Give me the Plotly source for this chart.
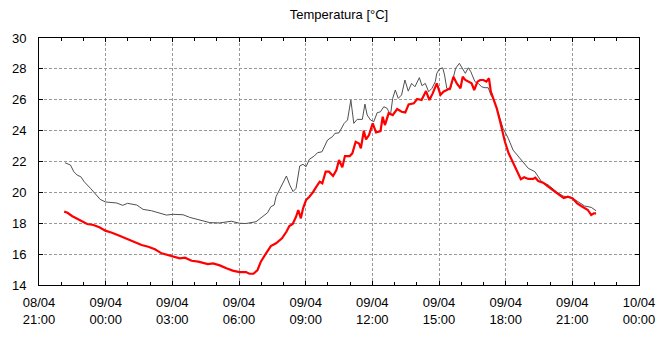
import plotly.graph_objects as go

# ---- data ----
black_time = [
    "2024-04-08 22:10", "2024-04-08 22:25", "2024-04-08 22:34", "2024-04-08 22:43", "2024-04-08 22:53",
    "2024-04-08 23:02", "2024-04-08 23:19", "2024-04-08 23:32", "2024-04-08 23:45", "2024-04-08 23:59",
    "2024-04-09 00:30", "2024-04-09 00:46", "2024-04-09 00:59", "2024-04-09 01:24", "2024-04-09 01:41",
    "2024-04-09 02:04", "2024-04-09 02:26", "2024-04-09 02:44", "2024-04-09 03:02", "2024-04-09 03:29",
    "2024-04-09 03:47", "2024-04-09 04:14", "2024-04-09 04:41", "2024-04-09 05:08", "2024-04-09 05:39",
    "2024-04-09 06:01", "2024-04-09 06:18", "2024-04-09 06:46", "2024-04-09 07:04", "2024-04-09 07:17",
    "2024-04-09 07:26", "2024-04-09 07:35", "2024-04-09 07:40", "2024-04-09 07:49", "2024-04-09 07:58",
    "2024-04-09 08:08", "2024-04-09 08:17", "2024-04-09 08:26", "2024-04-09 08:34", "2024-04-09 08:44",
    "2024-04-09 08:53", "2024-04-09 09:01", "2024-04-09 09:10", "2024-04-09 09:23", "2024-04-09 09:32",
    "2024-04-09 09:44", "2024-04-09 09:59", "2024-04-09 10:12", "2024-04-09 10:19", "2024-04-09 10:30",
    "2024-04-09 10:44", "2024-04-09 10:53", "2024-04-09 11:02", "2024-04-09 11:10", "2024-04-09 11:19",
    "2024-04-09 11:33", "2024-04-09 11:40", "2024-04-09 11:46", "2024-04-09 11:55", "2024-04-09 12:04",
    "2024-04-09 12:13", "2024-04-09 12:22", "2024-04-09 12:31", "2024-04-09 12:40", "2024-04-09 12:49",
    "2024-04-09 12:55", "2024-04-09 13:02", "2024-04-09 13:10", "2024-04-09 13:19", "2024-04-09 13:28",
    "2024-04-09 13:37", "2024-04-09 13:46", "2024-04-09 13:55", "2024-04-09 14:07", "2024-04-09 14:14",
    "2024-04-09 14:23", "2024-04-09 14:32", "2024-04-09 14:41", "2024-04-09 14:50", "2024-04-09 14:54",
    "2024-04-09 15:01", "2024-04-09 15:10", "2024-04-09 15:15", "2024-04-09 15:21", "2024-04-09 15:30",
    "2024-04-09 15:39", "2024-04-09 15:45", "2024-04-09 15:55", "2024-04-09 16:01", "2024-04-09 16:11",
    "2024-04-09 16:19", "2024-04-09 16:26", "2024-04-09 16:37", "2024-04-09 16:46", "2024-04-09 16:55",
    "2024-04-09 17:04", "2024-04-09 17:13", "2024-04-09 17:20", "2024-04-09 17:26", "2024-04-09 17:36",
    "2024-04-09 17:53", "2024-04-09 18:07", "2024-04-09 18:20", "2024-04-09 18:38", "2024-04-09 19:01",
    "2024-04-09 19:19", "2024-04-09 19:37", "2024-04-09 19:55", "2024-04-09 20:17", "2024-04-09 20:35",
    "2024-04-09 20:57", "2024-04-09 21:15", "2024-04-09 21:33", "2024-04-09 21:51", "2024-04-09 22:04",
]
black_temp = [
    21.92, 21.77, 21.34, 21.12, 21.01,
    20.69, 20.26, 19.89, 19.55, 19.38,
    19.31, 19.16, 19.29, 19.18, 18.90,
    18.81, 18.64, 18.53, 18.58, 18.55,
    18.38, 18.19, 18.04, 18.02, 18.13,
    18.00, 17.98, 18.10, 18.47, 18.68,
    19.07, 19.18, 19.72, 20.15, 20.48,
    21.06, 20.48, 20.05, 20.26, 21.71,
    21.82, 21.66, 22.14, 22.35, 22.57,
    22.63, 23.39, 23.60, 23.82, 23.86,
    24.47, 24.69, 25.98, 24.47, 24.73,
    24.73, 25.72, 25.01, 24.69, 24.58,
    25.16, 25.22, 25.55, 25.44, 25.01,
    26.09, 26.63, 26.09, 26.31, 27.28,
    26.56, 27.06, 26.84, 27.43, 26.91,
    27.06, 26.52, 26.74, 27.17, 27.71,
    27.99, 28.07, 27.60, 26.74, 26.63,
    27.39, 28.04, 28.36, 28.14, 27.71,
    28.07, 27.81, 27.17, 27.06, 26.84,
    26.78, 26.78, 26.31, 26.09, 25.44,
    24.15, 23.50, 22.74, 22.20, 21.56,
    21.34, 20.69, 20.48, 20.04, 19.76,
    19.68, 19.40, 19.12, 19.03, 18.81,
]

red_time = [
    "2024-04-08 22:08", "2024-04-08 22:17", "2024-04-08 22:29", "2024-04-08 22:43", "2024-04-08 22:56",
    "2024-04-08 23:10", "2024-04-08 23:27", "2024-04-08 23:43", "2024-04-08 23:59", "2024-04-09 00:17",
    "2024-04-09 00:39", "2024-04-09 00:59", "2024-04-09 01:19", "2024-04-09 01:37", "2024-04-09 01:55",
    "2024-04-09 02:13", "2024-04-09 02:31", "2024-04-09 02:49", "2024-04-09 03:02", "2024-04-09 03:20",
    "2024-04-09 03:34", "2024-04-09 03:52", "2024-04-09 04:10", "2024-04-09 04:23", "2024-04-09 04:36",
    "2024-04-09 04:50", "2024-04-09 05:08", "2024-04-09 05:26", "2024-04-09 05:43", "2024-04-09 06:01",
    "2024-04-09 06:19", "2024-04-09 06:28", "2024-04-09 06:39", "2024-04-09 06:50", "2024-04-09 06:59",
    "2024-04-09 07:13", "2024-04-09 07:26", "2024-04-09 07:40", "2024-04-09 07:56", "2024-04-09 08:08",
    "2024-04-09 08:16", "2024-04-09 08:25", "2024-04-09 08:34", "2024-04-09 08:40", "2024-04-09 08:47",
    "2024-04-09 08:53", "2024-04-09 09:01", "2024-04-09 09:10", "2024-04-09 09:19", "2024-04-09 09:29",
    "2024-04-09 09:38", "2024-04-09 09:45", "2024-04-09 09:54", "2024-04-09 10:03", "2024-04-09 10:14",
    "2024-04-09 10:23", "2024-04-09 10:30", "2024-04-09 10:39", "2024-04-09 10:46", "2024-04-09 10:59",
    "2024-04-09 11:06", "2024-04-09 11:15", "2024-04-09 11:24", "2024-04-09 11:29", "2024-04-09 11:37",
    "2024-04-09 11:43", "2024-04-09 11:51", "2024-04-09 12:01", "2024-04-09 12:10", "2024-04-09 12:22",
    "2024-04-09 12:28", "2024-04-09 12:34", "2024-04-09 12:44", "2024-04-09 12:55", "2024-04-09 13:07",
    "2024-04-09 13:19", "2024-04-09 13:29", "2024-04-09 13:38", "2024-04-09 13:52", "2024-04-09 14:01",
    "2024-04-09 14:13", "2024-04-09 14:25", "2024-04-09 14:34", "2024-04-09 14:43", "2024-04-09 14:54",
    "2024-04-09 15:04", "2024-04-09 15:12", "2024-04-09 15:21", "2024-04-09 15:30", "2024-04-09 15:39",
    "2024-04-09 15:48", "2024-04-09 15:58", "2024-04-09 16:04", "2024-04-09 16:11", "2024-04-09 16:19",
    "2024-04-09 16:28", "2024-04-09 16:35", "2024-04-09 16:44", "2024-04-09 16:51", "2024-04-09 17:00",
    "2024-04-09 17:08", "2024-04-09 17:15", "2024-04-09 17:20", "2024-04-09 17:29", "2024-04-09 17:36",
    "2024-04-09 17:44", "2024-04-09 17:51", "2024-04-09 17:58", "2024-04-09 18:08", "2024-04-09 18:19",
    "2024-04-09 18:30", "2024-04-09 18:41", "2024-04-09 18:50", "2024-04-09 19:01", "2024-04-09 19:14",
    "2024-04-09 19:20", "2024-04-09 19:28", "2024-04-09 19:41", "2024-04-09 19:55", "2024-04-09 20:08",
    "2024-04-09 20:22", "2024-04-09 20:37", "2024-04-09 20:48", "2024-04-09 21:01", "2024-04-09 21:13",
    "2024-04-09 21:24", "2024-04-09 21:42", "2024-04-09 21:51", "2024-04-09 21:58", "2024-04-09 22:04",
]
red_temp = [
    18.75, 18.68, 18.47, 18.29, 18.12,
    17.95, 17.89, 17.74, 17.52, 17.39,
    17.17, 16.98, 16.80, 16.59, 16.48,
    16.31, 16.05, 15.94, 15.83, 15.73,
    15.77, 15.57, 15.51, 15.44, 15.36,
    15.40, 15.27, 15.08, 14.93, 14.84,
    14.84, 14.73, 14.73, 14.97, 15.51,
    16.05, 16.52, 16.70, 17.02, 17.45,
    17.82, 17.95, 18.42, 18.86, 18.32,
    18.97, 19.50, 19.72, 19.98, 20.37,
    20.69, 20.59, 21.34, 21.34, 21.06,
    21.45, 22.10, 21.62, 22.35, 22.35,
    22.53, 23.28, 23.17, 22.85, 23.99,
    23.43, 23.71, 24.47, 23.89, 23.97,
    24.90, 24.36, 25.12, 25.01, 25.40,
    25.22, 25.18, 25.70, 25.77, 26.05,
    25.98, 26.56, 25.98, 26.41, 27.06,
    26.31, 26.52, 26.63, 26.74, 27.49,
    27.06, 26.74, 27.49, 27.28, 27.17,
    27.06, 26.63, 27.17, 27.28, 27.28,
    27.17, 27.39, 26.52, 25.87, 25.44,
    24.69, 23.93, 23.28, 22.53, 21.95,
    21.45, 20.85, 20.98, 20.87, 20.87,
    20.95, 20.74, 20.63, 20.37, 20.11,
    19.89, 19.63, 19.72, 19.61, 19.29,
    19.12, 18.86, 18.53, 18.64, 18.64,
]

x_range = ["2024-04-08 21:00", "2024-04-10 00:00"]
y_ticks = [14, 16, 18, 20, 22, 24, 26, 28, 30]
title_text = "Temperatura [°C]"

FONT = "Liberation Sans, Arial, sans-serif"

fig = go.Figure()
fig.add_trace(go.Scatter(x=black_time, y=black_temp, mode="lines",
                         line=dict(color="#505050", width=1), hoverinfo="skip"))
fig.add_trace(go.Scatter(x=red_time, y=red_temp, mode="lines",
                         line=dict(color="#ff0000", width=2.2), hoverinfo="skip"))

fig.update_layout(
    width=667, height=343,
    margin=dict(l=38, r=26, t=38, b=58, pad=0),
    paper_bgcolor="white", plot_bgcolor="white",
    showlegend=False,
    font=dict(family=FONT, size=13, color="#000000"),
    title=dict(text=title_text, x=0.5, xref="paper", xanchor="center",
               y=1 - 14 / 343, yref="container", yanchor="middle",
               font=dict(family=FONT, size=13, color="#000000")),
)

fig.update_xaxes(
    type="date", range=x_range,
    tick0=x_range[0], dtick=3 * 3600 * 1000,
    tickformat="%d/%m<br>%H:%M",
    showline=True, linecolor="black", linewidth=1, mirror="ticks",
    ticks="inside", ticklen=4, tickcolor="black", tickwidth=1,
    showgrid=True, gridcolor="#999999", gridwidth=1, griddash="3px,2px",
    zeroline=False,
    ticklabelstandoff=5,
    minor=dict(dtick=3600 * 1000, ticks="inside", ticklen=3, tickcolor="black",
               tickwidth=1, showgrid=False),
    tickfont=dict(family=FONT, size=13, color="#000000"),
)
fig.update_yaxes(
    range=[14, 30], tickvals=y_ticks,
    showline=True, linecolor="black", linewidth=1, mirror="ticks",
    ticks="inside", ticklen=4, tickcolor="black", tickwidth=1,
    showgrid=True, gridcolor="#999999", gridwidth=1, griddash="3px,2px",
    zeroline=False,
    ticklabelstandoff=9,
    tickfont=dict(family=FONT, size=13, color="#000000"),
)

fig.write_html("out.html")
